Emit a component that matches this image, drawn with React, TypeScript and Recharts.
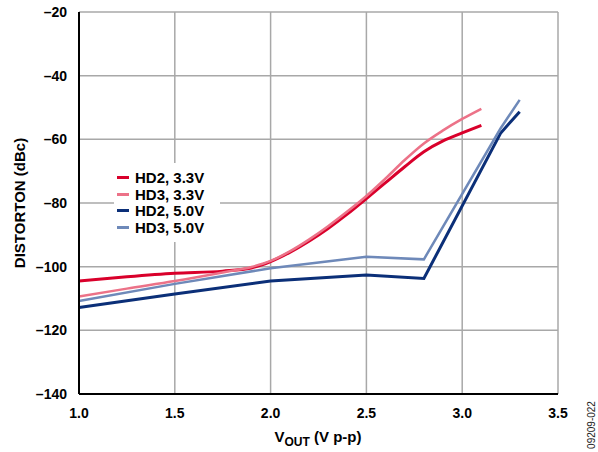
import React from 'react';
import { LineChart, Line, XAxis, YAxis, CartesianGrid, Legend } from 'recharts';

// V p-p sample points and readings (dBc)
const vout33 = [1.0, 1.25, 1.5, 1.75, 1.9, 2.0, 2.1, 2.2, 2.3, 2.4, 2.5, 2.6, 2.7, 2.8, 2.9, 3.0, 3.1];
const hd2At33 = [-104.5, -103.2, -102.1, -101.4, -100.4, -98.4, -95.5, -92, -88, -83.5, -78.6, -73.6, -68.6, -63.9, -60.5, -58, -55.6];
const hd3At33 = [-109.4, -106.9, -104.5, -101.8, -100.1, -98.2, -95.2, -91.5, -87.3, -82.7, -77.8, -72.3, -66.5, -61.3, -57.2, -53.6, -50.4];

const vout50 = [1.0, 1.5, 2.0, 2.5, 2.8, 3.2, 3.3];
const hd2At50 = [-112.8, -108.6, -104.5, -102.6, -103.7, -58.1, -51.3];
const hd3At50 = [-110.8, -105.4, -100.5, -96.9, -97.7, -56.6, -47.6];

const xTicks = [1.0, 1.5, 2.0, 2.5, 3.0, 3.5];
const yTicks = [-140, -120, -100, -80, -60, -40, -20];

const toRows = (xs: number[], ys: number[]) => xs.map((v, i) => ({ v, d: ys[i] }));

const series = [
  { name: 'HD2, 3.3V', color: '#d9002b', width: 3, data: toRows(vout33, hd2At33), type: 'monotone' },
  { name: 'HD3, 3.3V', color: '#ec7288', width: 2.5, data: toRows(vout33, hd3At33), type: 'monotone' },
  { name: 'HD2, 5.0V', color: '#0b2f78', width: 3, data: toRows(vout50, hd2At50), type: 'linear' },
  { name: 'HD3, 5.0V', color: '#6e89b9', width: 2.5, data: toRows(vout50, hd3At50), type: 'linear' },
];

const FONT = '"Liberation Sans", Arial, sans-serif';
const tickStyle = { fill: '#000', fontSize: 14, fontWeight: 700, fontFamily: FONT };

const LegendBox = () => (
  <div style={{ background: '#fff', padding: '6px 0 6px 3px', fontFamily: FONT, fontWeight: 700, fontSize: 15, textAlign: 'left' }}>
    {series.map(s => (
      <div key={s.name} style={{ display: 'flex', alignItems: 'center', height: 16.7 }}>
        <span style={{ display: 'inline-block', width: 12, height: 3, background: s.color, marginRight: 6 }} />
        <span>{s.name}</span>
      </div>
    ))}
  </div>
);

export default function App() {
  return (
    <div style={{ position: 'absolute', left: 0, top: 0, width: 598, height: 452, background: '#fff' }}>
      <LineChart width={598} height={452} margin={{ top: 12, right: 40, left: 19, bottom: 28 }}>
        <CartesianGrid stroke="#a8a8a8" strokeWidth={1.5} />
        <XAxis
          type="number"
          dataKey="v"
          domain={[1, 3.5]}
          ticks={xTicks}
          height={30}
          tickLine={false}
          axisLine={{ stroke: '#000', strokeWidth: 2 }}
          tick={tickStyle}
          tickFormatter={(t: number) => t.toFixed(1)}
          tickMargin={8}
          allowDuplicatedCategory={false}
        />
        <XAxis xAxisId="top" orientation="top" type="number" domain={[1, 3.5]} height={0} tick={false} tickLine={false} axisLine={{ stroke: '#000', strokeWidth: 2 }} />
        <YAxis
          type="number"
          domain={[-140, -20]}
          ticks={yTicks}
          width={60}
          tickLine={false}
          axisLine={{ stroke: '#000', strokeWidth: 2 }}
          tick={tickStyle}
          tickFormatter={(t: number) => String(t).replace('-', '\u2013')}
          tickMargin={6}
        />
        <YAxis yAxisId="right" orientation="right" domain={[-140, -20]} width={0} tick={false} tickLine={false} axisLine={{ stroke: '#000', strokeWidth: 2 }} />
        {series.map(s => (
          <Line
            key={s.name}
            data={s.data}
            dataKey="d"
            name={s.name}
            type={s.type as any}
            stroke={s.color}
            strokeWidth={s.width}
            dot={false}
            isAnimationActive={false}
          />
        ))}
        <Legend
          layout="vertical"
          align="center"
          verticalAlign="middle"
          content={() => <LegendBox />}
          wrapperStyle={{ left: 114, top: 163, width: 106, bottom: 'auto' }}
        />
        <text
          x={19}
          y={203}
          transform="rotate(-90 19 203)"
          textAnchor="middle"
          dominantBaseline="central"
          style={{ fontFamily: FONT, fontWeight: 700, fontSize: 15 }}
        >
          DISTORTON (dBc)
        </text>
        <text x={318} y={442} textAnchor="middle" style={{ fontFamily: FONT, fontWeight: 700, fontSize: 15 }}>
          V<tspan fontSize={12} dy={4}>OUT</tspan>
          <tspan dy={-4}> (V p-p)</tspan>
        </text>
        <text
          x={591}
          y={425}
          transform="rotate(-90 591 425)"
          textAnchor="middle"
          dominantBaseline="central"
          style={{ fontFamily: FONT, fontSize: 10, fill: '#222' }}
        >
          09209-022
        </text>
      </LineChart>
    </div>
  );
}
